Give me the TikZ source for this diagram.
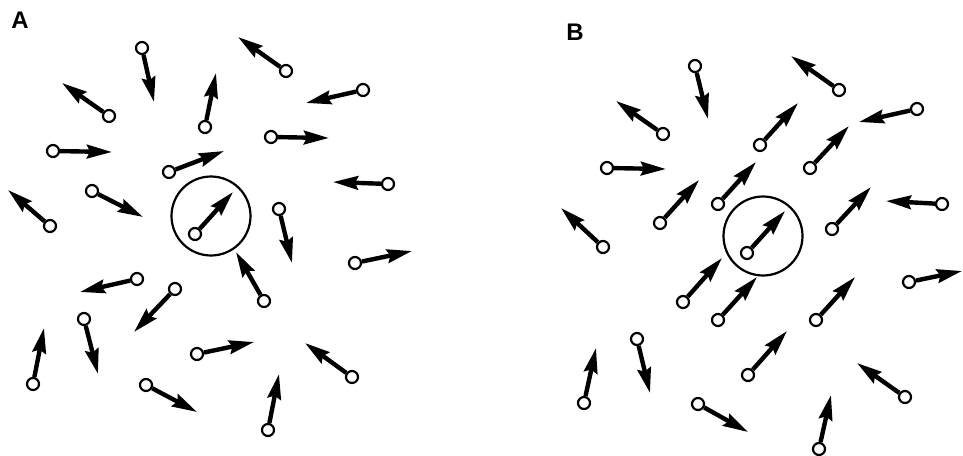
\documentclass[tikz,border=0pt]{standalone}
\usepackage{fontspec}
\setmainfont{Liberation Sans}
\usetikzlibrary{arrows.meta}
\begin{document}
\begin{tikzpicture}[x=1pt,y=-1pt,
  dot/.style={circle,draw=black,fill=white,line width=2.2pt,inner sep=0pt,minimum size=12pt},
  vec/.style={line width=4.4pt,-{Stealth[length=25pt,width=13.5pt,inset=3pt]}},
  ring/.style={circle,draw=black,line width=2.2pt,inner sep=0pt,minimum size=79pt},
  lab/.style={font=\fontsize{24}{24}\selectfont\bfseries,inner sep=0pt}]
\useasboundingbox (0,0) rectangle (963,455);
\node[lab] (labA) at (20,20) {A};
\node[lab] (labB) at (575,32) {B};
\node[ring] (ringA) at (211,216) {};
\node[ring] (ringB) at (763,236) {};
\foreach \i/\x/\y/\u/\v in {
  a1/142/48/154/102, a2/109/116/62/83, a3/53/151/112/152, a4/205/127/216/73,
  a5/169/172/224/151, a6/92/191/143/217, a7/50/226/8/190, a8/195/234/233/192,
  a9/286/71/238/37, a10/363/90/306/103, a11/271/137/329/138, a12/388/184/333/182,
  a13/279/209/292/263, a14/264/301/236/252, a15/355/263/412/251, a16/352/377/305/343,
  a17/268/430/279/374, a18/197/354/254/342, a19/137/279/80/292, a20/175/289/134/332,
  a21/84/319/98/374, a22/33/384/44/328, a23/146/385/197/412,
  b1/695/66/708/119, b2/663/134/616/101, b3/607/168/666/169, b4/660/223/699/180,
  b5/718/204/756/162, b6/760/145/798/103, b7/603/247/561/208, b8/839/90/791/56,
  b9/917/109/859/122, b10/810/168/849/126, b11/942/204/886/201, b12/832/229/871/187,
  b13/747/253/785/211, b14/683/302/722/258, b15/718/320/757/277, b16/637/339/650/393,
  b17/584/403/596/348, b18/698/404/748/432, b19/748/375/787/331, b20/909/282/962/271,
  b21/816/320/855/277, b22/905/397/857/363, b23/819/449/831/395}
{
  \node[dot] (c\i) at (\x,\y) {};
  \coordinate (t\i) at (\u,\v);
  \draw[vec] (c\i) -- (t\i);
}
\end{tikzpicture}
\end{document}
